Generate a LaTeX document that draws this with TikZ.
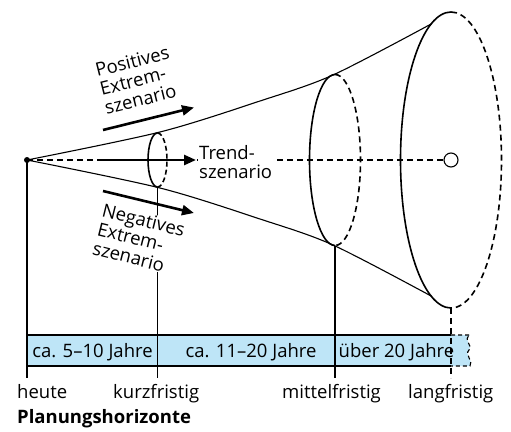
\documentclass[tikz,border=0pt]{standalone}
\usepackage{fontspec}
\setmainfont{Open Sans}
\usetikzlibrary{arrows.meta}
\definecolor{bandblue}{RGB}{190,229,247}
\begin{document}
\begin{tikzpicture}[x=1pt,y=-1pt, font=\fontsize{18.5}{19.5}\selectfont,
  thinln/.style={line width=1.1pt},
  ell/.style={line width=1.6pt},
  dsh/.style={dash pattern=on 6pt off 4pt},
  bigarrow/.style={line width=2.6pt,-{Triangle[length=12pt,width=10pt]}},
  lab/.style={inner sep=0pt, anchor=base west},
  bandlab/.style={inner sep=0pt, anchor=base},
  scen/.style={align=left, inner sep=1pt, fill=white}]
\useasboundingbox (0,0) rectangle (511,431);
% coordinates
\coordinate (apex) at (27,160);
\coordinate (s) at (157.5,160);
\coordinate (m) at (335,160);
\coordinate (b) at (451,160);
\coordinate (sbot) at (157.5,187);
\coordinate (mbot) at (335,246);
\coordinate (bbot) at (451,308);
% band
\fill[bandblue] (27,335) -- (470,335) .. controls (462,340) and (474,346) .. (469,350)
  .. controls (464,355) and (474,361) .. (470,366) -- (27,366) -- cycle;
\draw[thinln] (27,335) -- (451,335);
\draw[thinln] (27,366) -- (451,366);
\draw[thinln,dash pattern=on 4pt off 3pt] (451,335) -- (470,335) .. controls (462,340) and (474,346) .. (469,350)
  .. controls (464,355) and (474,361) .. (470,366) -- (451,366);
% vertical lines
\coordinate (h0) at (27,378);
\coordinate (h1) at (157.5,378);
\coordinate (h2) at (335,378);
\coordinate (h3) at (451,378);
\draw[thinln] (apex) -- (h0);
\draw[thinln] (sbot) -- (h1);
\draw[thinln] (mbot) -- (h2);
\draw[thinln,dsh] (bbot) -- (h3);
% centre line
\draw[thinln,dsh] (apex) -- (443,160);
% cone outlines
\draw[thinln] plot[smooth] coordinates {(27,160) (160,132) (260,101) (333,75) (432,23.5)};
\draw[thinln] plot[smooth] coordinates {(27,160) (160,188) (260,219) (333,245) (432,296.5)};
% ellipses
\draw[ell] (157.5,133) arc[start angle=270,end angle=90,x radius=9.5,y radius=27];
\draw[ell,dash pattern=on 5pt off 3pt] (157.5,133) arc[start angle=270,end angle=450,x radius=9.5,y radius=27];
\draw[ell] (335,74.5) arc[start angle=270,end angle=90,x radius=25.5,y radius=85.5];
\draw[ell,dsh] (335,74.5) arc[start angle=270,end angle=450,x radius=25.5,y radius=85.5];
\draw[ell] (451,12) arc[start angle=270,end angle=90,x radius=50.5,y radius=148];
\draw[ell,dsh] (451,12) arc[start angle=270,end angle=450,x radius=50.5,y radius=148];
\draw[thinln] (b) circle[radius=7];
\fill (apex) circle[radius=3];
% scenario labels
\node[scen, rotate=14] (pos) at (137,80) {Positives\\Extrem-\\szenario};
\node[scen, rotate=-14] (neg) at (139,239) {Negatives\\Extrem-\\szenario};
\node[scen, anchor=west] (trend) at (198,162) {Trend-\\szenario};
% arrows
\coordinate (pa) at (103,130); \coordinate (pb) at (194,107.5);
\coordinate (ta) at (103,160); \coordinate (tb) at (196,160);
\coordinate (na) at (103,191); \coordinate (nb) at (194,213);
\draw[bigarrow] (pa) -- (pb);
\draw[bigarrow] (ta) -- (tb);
\draw[bigarrow] (na) -- (nb);
% band labels
\node[bandlab] (l1) at (92.5,357) {ca. 5--10 Jahre};
\node[bandlab] (l2) at (251,357) {ca. 11--20 Jahre};
\node[bandlab] (l3) at (396.5,357) {über 20 Jahre};
% horizon labels
\node[lab] (heute) at (17,398) {heute};
\node[lab] (kurz) at (113,398) {kurzfristig};
\node[lab] (mittel) at (282,398) {mittelfristig};
\node[lab] (lang) at (408,398) {langfristig};
\node[lab, font=\fontsize{18.5}{19.5}\selectfont\bfseries] (ph) at (17,423) {Planungshorizonte};
\end{tikzpicture}
\end{document}
